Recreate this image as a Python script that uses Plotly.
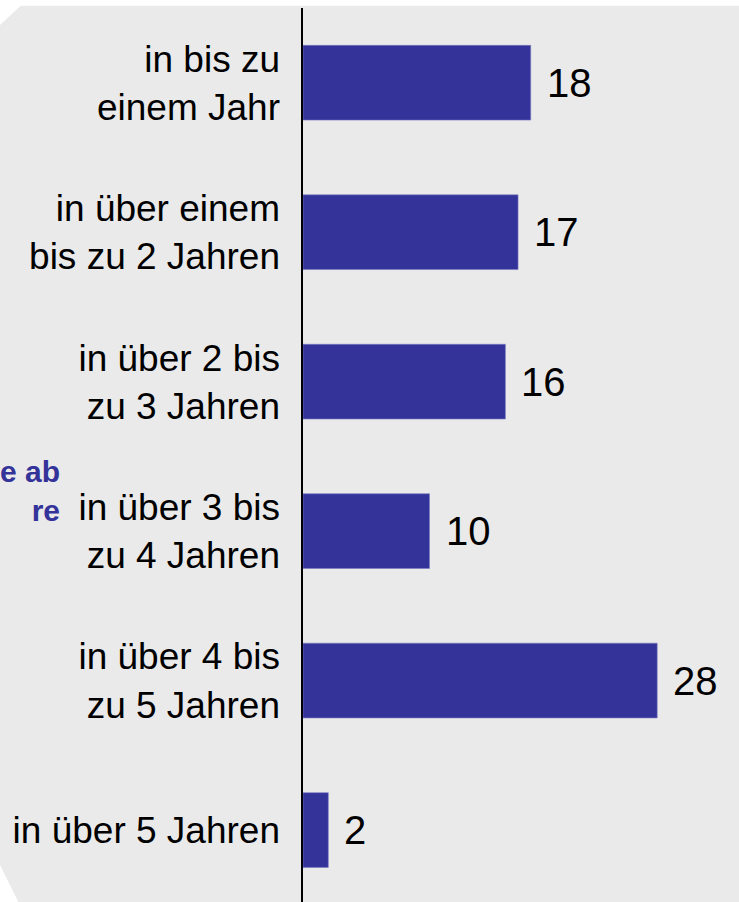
import plotly.graph_objects as go

categories = [
    "in bis zu<br>einem Jahr",
    "in über einem<br>bis zu 2 Jahren",
    "in über 2 bis<br>zu 3 Jahren",
    "in über 3 bis<br>zu 4 Jahren",
    "in über 4 bis<br>zu 5 Jahren",
    "in über 5 Jahren",
]
values = [18, 17, 16, 10, 28, 2]
side_label = "e ab<br>re"

W, H = 739, 902
ML, MT = 303, 8
PW, PH = W - ML, H - MT
BAR_COLOR = "#333399"
BG_GREY = "#eaeaea"
FONT = "Arial, Liberation Sans, sans-serif"


def px_to_paper(px, py):
    return (px - ML) / PW, (H - py) / PH


poly_px = [(20.7, 5.7), (745, 5.7), (745, 910), (22.3, 910), (0, 865), (-5, 865), (-5, 25), (0, 25)]
path = "M " + " L ".join(f"{px_to_paper(x, y)[0]:.5f},{px_to_paper(x, y)[1]:.5f}" for x, y in poly_px) + " Z"

ypos = list(range(len(categories)))

fig = go.Figure()
fig.add_trace(go.Bar(
    x=values, y=ypos, orientation="h",
    marker=dict(color=BAR_COLOR, line=dict(color="#7a7ac4", width=0.6)),
    width=0.5, hoverinfo="skip",
))

annotations = []
for v, y in zip(values, ypos):
    annotations.append(dict(
        x=v, y=y, xref="x", yref="y", text=str(v), showarrow=False,
        xanchor="left", yanchor="middle", xshift=14,
        font=dict(family=FONT, size=40, color="#000000"),
    ))
sx, sy = px_to_paper(62, 491)
annotations.append(dict(
    x=sx, y=sy, xref="paper", yref="paper", text=f"<b>{side_label}</b>",
    showarrow=False, xanchor="right", yanchor="middle", align="right",
    font=dict(family=FONT, size=30, color=BAR_COLOR),
))

fig.update_layout(
    width=W, height=H,
    margin=dict(l=ML, r=0, t=MT, b=0, autoexpand=False),
    paper_bgcolor="#ffffff",
    plot_bgcolor="rgba(0,0,0,0)",
    showlegend=False,
    bargap=0.5,
    shapes=[dict(type="path", path=path, xref="paper", yref="paper",
                 fillcolor=BG_GREY, line=dict(width=0), layer="below")],
    annotations=annotations,
    xaxis=dict(range=[0, PW / 12.65], visible=False, fixedrange=True),
    yaxis=dict(
        range=[-0.5 + PH / 149.46, -0.5],
        tickvals=ypos, ticktext=categories,
        showline=True, linecolor="#000000", linewidth=1.6,
        showgrid=False, zeroline=False, ticks="",
        ticklabelstandoff=14,
        tickfont=dict(family=FONT, size=37, color="#000000"),
        fixedrange=True,
    ),
)

fig.write_html(
    "out.html",
    config={"displayModeBar": False, "staticPlot": True},
    post_script="document.body.style.margin='0';document.body.style.overflow='hidden';",
)
